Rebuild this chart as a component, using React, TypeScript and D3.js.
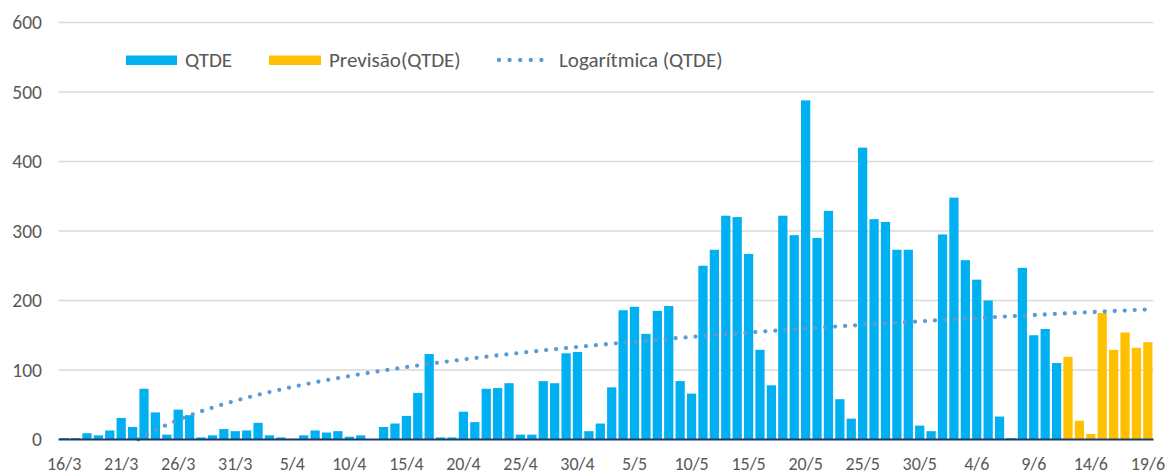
import React from "react";
import * as d3 from "d3";

// Day categories 16/3 .. 19/6
const monthRanges: [number, number, number][] = [
  [3, 16, 31],
  [4, 1, 30],
  [5, 1, 31],
  [6, 1, 19],
];
const categories: string[] = [];
monthRanges.forEach(([m, a, b]) => {
  for (let d = a; d <= b; d++) categories.push(`${d}/${m}`);
});

// QTDE (observed) – first 88 days
const qtde: number[] = [
  2, 2, 9, 6, 13, 31, 18, 73, 39, 7, 43, 35, 3, 6, 15, 12, 13, 24, 6, 3, 1, 6, 13, 10, 12, 4, 6, 0, 18, 23,
  34, 67, 123, 3, 3, 40, 25, 73, 74, 81, 7, 7, 84, 81, 124, 126, 12, 23, 75, 186, 191, 152, 185, 192, 84, 66,
  250, 273, 322, 320, 267, 129, 78, 322, 294, 488, 290, 329, 58, 30, 420, 317, 313, 273, 273, 20, 12, 295, 348,
  258, 230, 200, 33, 2, 247, 150, 159, 110,
];
// Previsão(QTDE) – last 8 days
const previsao: number[] = [119, 27, 8, 182, 129, 154, 132, 140];

const yTicks: number[] = [0, 100, 200, 300, 400, 500, 600];
const xTickLabels: string[] = [
  "16/3", "21/3", "26/3", "31/3", "5/4", "10/4", "15/4", "20/4", "25/4", "30/4",
  "5/5", "10/5", "15/5", "20/5", "25/5", "30/5", "4/6", "9/6", "14/6", "19/6",
];

const W = 1167;
const H = 473;
const left = 58.5;
const right = 1153.5;
const top = 22.5;
const bottom = 439.5;

export default function App() {
  const x = d3.scaleBand<string>().domain(categories).range([left, right]).paddingInner(0.19).paddingOuter(0.09);
  const y = d3.scaleLinear().domain([0, 600]).range([bottom, top]);

  // logarithmic trendline fitted to QTDE (x = 1..n)
  const n = qtde.length;
  const lx = qtde.map((_, i) => Math.log(i + 1));
  const mx = d3.mean(lx)!;
  const my = d3.mean(qtde)!;
  let sxy = 0, sxx = 0;
  lx.forEach((v, i) => {
    sxy += (v - mx) * (qtde[i] - my);
    sxx += (v - mx) * (v - mx);
  });
  const a = sxy / sxx;
  const b = my - a * mx;
  const trendPts: [number, number][] = [];
  for (let i = 0; i <= categories.length - 1 + 1e-9; i += 0.25) {
    const v = a * Math.log(i + 1) + b;
    if (v >= 0) trendPts.push([x(categories[0])! + x.bandwidth() / 2 + i * x.step(), y(v)]);
  }
  const line = d3.line();

  const fc = previsao.map((v, i) => ({ c: categories[n + i], v }));
  const font = "Calibri, Carlito, 'Liberation Sans', Arial, sans-serif";
  const textCol = "#595959";

  return (
    <svg width={W} height={H} style={{ position: "absolute", left: 0, top: 0, background: "#fff" }}>
      {yTicks.map((t) => (
        <g key={t}>
          {t > 0 && <line x1={left} x2={right} y1={y(t)} y2={y(t)} stroke="#d9d9d9" strokeWidth={1.3} />}
          <text x={42} y={y(t)} dy="0.35em" textAnchor="end" fontSize={19.5} fill={textCol} fontFamily={font}>
            {t}
          </text>
        </g>
      ))}
      {qtde.map((v, i) => (
        <rect key={i} x={x(categories[i])} y={y(v)} width={x.bandwidth()} height={bottom - y(v)} fill="#00b0f0" />
      ))}
      {fc.map((d) => (
        <rect key={d.c} x={x(d.c)} y={y(d.v)} width={x.bandwidth()} height={bottom - y(d.v)} fill="#ffc000" />
      ))}
      <path
        d={line(trendPts) || ""}
        fill="none"
        stroke="#5b9bd5"
        strokeWidth={4.3}
        strokeLinecap="round"
        strokeDasharray="0 10"
      />
      <line x1={left} x2={right} y1={bottom} y2={bottom} stroke="#1f3864" strokeWidth={2} />
      {xTickLabels.map((l) => (
        <text
          key={l}
          x={x(l)! + x.bandwidth() / 2}
          y={469.5}
          textAnchor="middle"
          fontSize={18}
          fill={textCol}
          fontFamily={font}
        >
          {l}
        </text>
      ))}
      <g fontFamily={font} fontSize={21} fill={textCol}>
        <rect x={126} y={55.5} width={51} height={9.5} fill="#00b0f0" />
        <text x={185} y={67}>QTDE</text>
        <rect x={269} y={55.5} width={52} height={9.5} fill="#ffc000" />
        <text x={329} y={67}>Previsão(QTDE)</text>
        <line x1={499} x2={552} y1={60} y2={60} stroke="#5b9bd5" strokeWidth={4.3} strokeLinecap="round" strokeDasharray="0 10.6" />
        <text x={559} y={67}>Logarítmica (QTDE)</text>
      </g>
    </svg>
  );
}
